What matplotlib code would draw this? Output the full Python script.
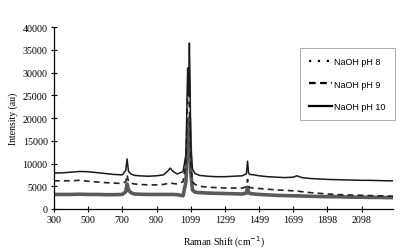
import matplotlib
matplotlib.use("Agg")
import matplotlib.pyplot as plt
from matplotlib.lines import Line2D

# Raman shift sample points (cm-1)
shift = [300, 350, 400, 450, 500, 550, 600, 650, 700, 720, 728, 736, 750, 770, 800, 850, 900,
         940, 965, 980, 995, 1020, 1055, 1072, 1082, 1087, 1092, 1096, 1100, 1110, 1125, 1150,
         1200, 1250, 1300, 1350, 1400, 1425, 1432, 1438, 1445, 1470, 1500, 1550, 1600, 1650,
         1700, 1720, 1750, 1800, 1850, 1900, 1950, 2000, 2050, 2100, 2150, 2200, 2250, 2283]

ph10 = [7900, 7950, 8100, 8250, 8200, 8000, 7800, 7600, 7500, 8500, 11000, 8300, 7700, 7400, 7300, 7200, 7300,
        7500, 8300, 9000, 8300, 7700, 8200, 12000, 31000, 25000, 36500, 28000, 14000, 8800, 7800, 7400,
        7200, 7100, 7100, 7200, 7300, 7700, 10500, 7900, 7600, 7500, 7300, 7100, 7000, 6900,
        7000, 7300, 6900, 6700, 6600, 6500, 6450, 6400, 6350, 6300, 6300, 6250, 6200, 6200]

ph9 = [6200, 6200, 6200, 6300, 6100, 5950, 5800, 5700, 5600, 6000, 7500, 6000, 5700, 5500, 5400, 5300, 5300,
       5400, 5600, 5800, 5600, 5500, 6000, 10000, 25000, 31000, 22000, 18000, 10000, 6000, 5400, 5000,
       4800, 4700, 4600, 4600, 4600, 4900, 6500, 5000, 4700, 4600, 4500, 4350, 4200, 4100,
       4000, 3950, 3800, 3600, 3450, 3300, 3200, 3100, 3050, 3000, 2950, 2900, 2850, 2800]

ph8 = [3200, 3200, 3200, 3250, 3200, 3200, 3150, 3150, 3200, 3800, 5500, 4200, 3600, 3300, 3250, 3200, 3200,
       3200, 3200, 3200, 3200, 3150, 2900, 6000, 15000, 19000, 20000, 16000, 8000, 4200, 3700, 3600,
       3500, 3450, 3400, 3350, 3300, 3500, 4800, 3600, 3400, 3300, 3200, 3100, 3000, 2950,
       2900, 2900, 2850, 2800, 2750, 2700, 2700, 2650, 2600, 2600, 2550, 2550, 2500, 2500]

xticks = [300, 500, 700, 900, 1099, 1299, 1499, 1699, 1898, 2098]
yticks = [0, 5000, 10000, 15000, 20000, 25000, 30000, 35000, 40000]
labels = ["NaOH pH 8", "NaOH pH 9", "NaOH pH 10"]

serif = ["Liberation Serif", "DejaVu Serif"]

fig = plt.figure(figsize=(4.02, 2.53), dpi=100)
ax = fig.add_axes([0.134, 0.17, 0.844, 0.719])

ax.plot(shift, ph8, color="#5a5a5a", lw=2.6, solid_joinstyle="round")
ax.plot(shift, ph9, color="#222222", lw=1.2, linestyle=(0, (3.5, 2.5)))
ax.plot(shift, ph10, color="#1a1a1a", lw=1.1)

ax.set_xlim(300, 2283)
ax.set_ylim(0, 40000)
ax.set_xticks(xticks)
ax.set_xticklabels([str(t) for t in xticks], family=serif, fontsize=7.2)
ax.set_yticks(yticks)
ax.set_yticklabels([str(t) for t in yticks], family=serif, fontsize=7.2)
ax.tick_params(direction="inout", length=5, width=0.8, pad=2)
for s in ["top", "right"]:
    ax.spines[s].set_visible(False)
for s in ["left", "bottom"]:
    ax.spines[s].set_linewidth(0.9)

ax.set_xlabel("Raman Shift (cm$^{-1}$)", family=serif, fontsize=7, labelpad=7)
ax.set_ylabel("Intensity (au)", family=serif, fontsize=7, labelpad=3)

handles = [Line2D([], [], color="black", lw=1.6, linestyle=(0, (1, 3))),
           Line2D([], [], color="black", lw=1.6, linestyle=(0, (3, 2))),
           Line2D([], [], color="black", lw=1.6)]
leg = ax.legend(handles, labels, loc="upper right", bbox_to_anchor=(1.012, 0.9),
                prop={"family": ["Liberation Sans", "DejaVu Sans"], "size": 6.5},
                frameon=True, fancybox=False, labelspacing=1.5, handlelength=2.6,
                handletextpad=0.2, borderpad=1.0, borderaxespad=0.3)
leg.get_frame().set_edgecolor("#999999")
leg.get_frame().set_linewidth(0.7)

fig.savefig("out.png", dpi=100)
